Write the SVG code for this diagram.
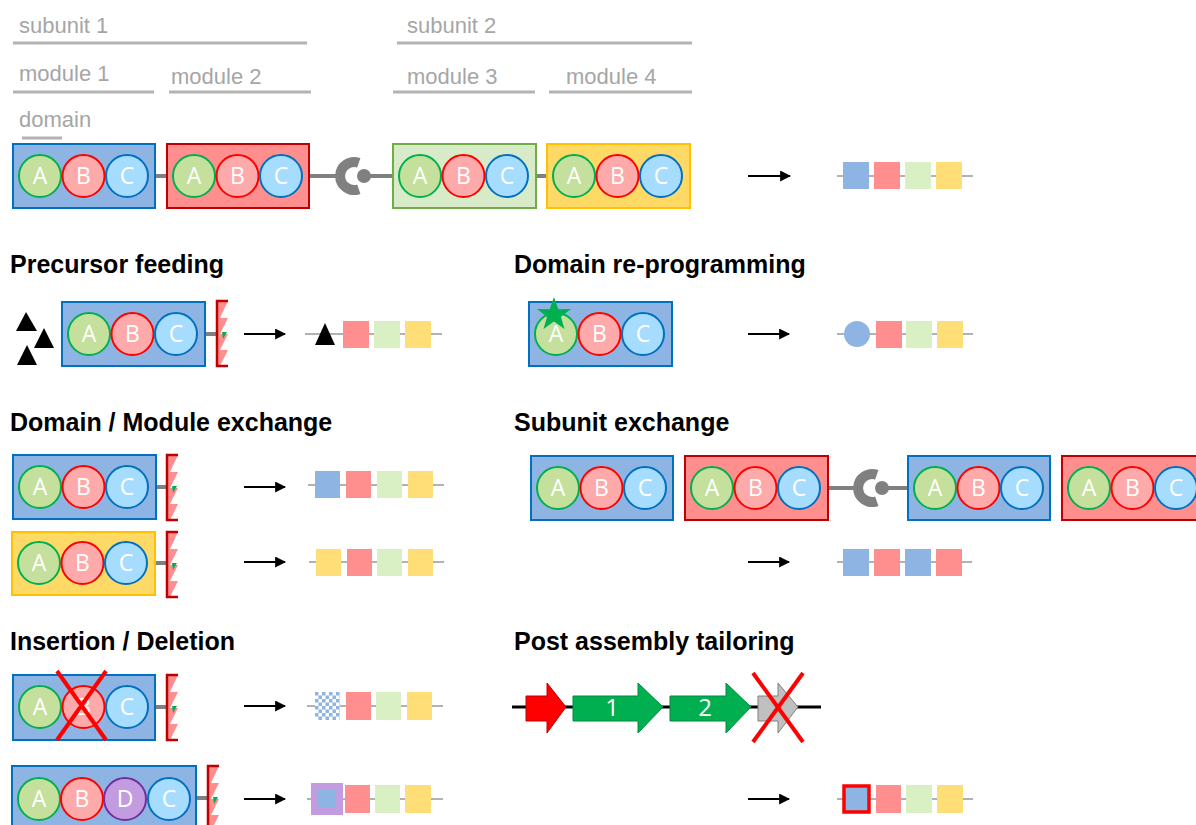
<svg xmlns="http://www.w3.org/2000/svg" xmlns:xlink="http://www.w3.org/1999/xlink" width="1196" height="825" viewBox="0 0 1196 825">
<style>
.lbl{font-family:"Liberation Sans",Arial,sans-serif;font-size:22px;fill:#a6a6a6}
.gl{stroke:#b3b3b3;stroke-width:3;fill:none}
.hdr{font-family:"Liberation Sans",Arial,sans-serif;font-size:25px;font-weight:bold;fill:#000}
.lt{font-family:"Open Sans","Liberation Sans",sans-serif;font-size:23px;fill:#fff;text-anchor:middle}
.mB{fill:#8db4e2;stroke:#0070c0;stroke-width:2}
.mR{fill:#ff8f8f;stroke:#c00000;stroke-width:2}
.mG{fill:#d8ebc8;stroke:#70ad47;stroke-width:2}
.mY{fill:#ffd966;stroke:#ffc000;stroke-width:2}
.cA{fill:#c4e09c;stroke:#00b050;stroke-width:2}
.cB{fill:#ffaaaa;stroke:#ff0000;stroke-width:2}
.cC{fill:#a6ddff;stroke:#0070c0;stroke-width:2}
.cD{fill:#c39be0;stroke:#7030a0;stroke-width:2}
.lk{stroke:#808080;stroke-width:4;fill:none}
.ar{stroke:#000;stroke-width:2;fill:none;marker-end:url(#ah)}
.pl{stroke:#999;stroke-width:1.5;fill:none}
.sB{fill:#8db4e2}.sR{fill:#ff8f8f}.sG{fill:#d9f0c5}.sY{fill:#ffdd77}
.x{stroke:#ff0000;stroke-width:4;fill:none}
.gn{font-family:"Open Sans","Liberation Sans",sans-serif;font-size:24px;fill:#fff;text-anchor:middle}
</style>
<defs>
<marker id="ah" viewBox="0 0 10 10" refX="9" refY="5" markerWidth="5.5" markerHeight="5.5" orient="auto" markerUnits="strokeWidth">
<path d="M0,0 L10,5 L0,10 z" fill="#000"/>
</marker>
<pattern id="chk" width="7" height="7" patternUnits="userSpaceOnUse" x="315" y="692">
<rect width="7" height="7" fill="#ffffff"/>
<rect width="3.5" height="3.5" fill="#8db4e2"/>
<rect x="3.5" y="3.5" width="3.5" height="3.5" fill="#8db4e2"/>
</pattern>
<g id="abc">
<circle class="cA" cx="27" cy="32" r="21"/><text class="lt" x="27" y="40">A</text>
<circle class="cB" cx="70.5" cy="32" r="21"/><text class="lt" x="70.5" y="40">B</text>
<circle class="cC" cx="114" cy="32" r="21"/><text class="lt" x="114" y="40">C</text>
</g>
<g id="te">
<polygon points="0,0 11,0 3,17 11,17 3,33 11,33 3,49 11,49 3,65 0,65" fill="#ff8f8f"/>
<polygon points="5,31 10,31 6,38" fill="#00b050"/>
<path d="M11,0 H0 V65 H11" stroke="#c00000" stroke-width="2.5" fill="none"/>
</g>
<g id="dock">
<path d="M4.8,-13.2 A14,14 0 1 0 4.8,13.2" stroke="#808080" stroke-width="10" fill="none"/>
<circle cx="10" cy="0" r="7" fill="#808080"/>
</g>
</defs>

<g id="labels">
<text class="lbl" x="19" y="33">subunit 1</text>
<line class="gl" x1="13" y1="43" x2="307" y2="43"/>
<text class="lbl" x="19" y="81">module 1</text>
<line class="gl" x1="13" y1="92" x2="154" y2="92"/>
<text class="lbl" x="171" y="84">module 2</text>
<line class="gl" x1="169" y1="92" x2="311" y2="92"/>
<text class="lbl" x="19" y="127">domain</text>
<line class="gl" x1="22" y1="138" x2="62" y2="138"/>
<text class="lbl" x="407" y="33">subunit 2</text>
<line class="gl" x1="397" y1="43" x2="692" y2="43"/>
<text class="lbl" x="407" y="84">module 3</text>
<line class="gl" x1="393" y1="92" x2="535" y2="92"/>
<text class="lbl" x="566" y="84">module 4</text>
<line class="gl" x1="549" y1="92" x2="692" y2="92"/>
</g>

<g id="headers">
<text class="hdr" x="10" y="273">Precursor feeding</text>
<text class="hdr" x="514" y="273">Domain re-programming</text>
<text class="hdr" x="10" y="431">Domain / Module exchange</text>
<text class="hdr" x="514" y="431">Subunit exchange</text>
<text class="hdr" x="10" y="650">Insertion / Deletion</text>
<text class="hdr" x="514" y="650">Post assembly tailoring</text>
</g>

<g id="connectors">
<line class="lk" x1="155" y1="176" x2="167" y2="176"/>
<line class="lk" x1="309" y1="176" x2="340" y2="176"/>
<line class="lk" x1="364" y1="176" x2="393" y2="176"/>
<line class="lk" x1="536" y1="176" x2="547" y2="176"/>
<line class="lk" x1="206" y1="334" x2="217" y2="334"/>
<line class="lk" x1="156" y1="487" x2="167" y2="487"/>
<line class="lk" x1="155" y1="563" x2="167" y2="563"/>
<line class="lk" x1="828" y1="488" x2="858" y2="488"/>
<line class="lk" x1="882" y1="488" x2="908" y2="488"/>
<line class="lk" x1="155" y1="707" x2="167" y2="707"/>
<line class="lk" x1="196" y1="798" x2="208" y2="798"/>
<line class="ar" x1="748" y1="176" x2="790" y2="176"/>
<line class="ar" x1="244" y1="334" x2="285" y2="334"/>
<line class="ar" x1="748" y1="334" x2="789" y2="334"/>
<line class="ar" x1="244" y1="487" x2="285" y2="487"/>
<line class="ar" x1="244" y1="562" x2="285" y2="562"/>
<line class="ar" x1="748" y1="562" x2="789" y2="562"/>
<line class="ar" x1="244" y1="706" x2="285" y2="706"/>
<line class="ar" x1="244" y1="799" x2="285" y2="799"/>
<line class="ar" x1="748" y1="799" x2="789" y2="799"/>
</g>

<g id="top-assembly">
<g id="module1"><rect class="mB" x="13" y="144" width="142" height="64"/><use xlink:href="#abc" x="13" y="144"/></g>
<g id="module2"><rect class="mR" x="167" y="144" width="142" height="64"/><use xlink:href="#abc" x="167" y="144"/></g>
<g id="dock1"><use xlink:href="#dock" x="354" y="176"/></g>
<g id="module3"><rect class="mG" x="393" y="144" width="143" height="64"/><use xlink:href="#abc" x="393" y="144"/></g>
<g id="module4"><rect class="mY" x="547" y="144" width="143" height="64"/><use xlink:href="#abc" x="547" y="144"/></g>
</g>
<g id="product-top">
<line class="pl" x1="837" y1="176" x2="973" y2="176"/>
<rect class="sB" x="843" y="162" width="26" height="27"/>
<rect class="sR" x="874" y="162" width="26" height="27"/>
<rect class="sG" x="905" y="162" width="26" height="27"/>
<rect class="sY" x="936" y="162" width="26" height="27"/>
</g>

<g id="precursor">
<polygon points="26,312 16,331 37,331" fill="#000"/>
<polygon points="44,328 34,348 54,348" fill="#000"/>
<polygon points="27,345 17,365 37,365" fill="#000"/>
<rect class="mB" x="62" y="302" width="143" height="64"/><use xlink:href="#abc" x="62" y="302"/>
<use xlink:href="#te" x="217" y="301"/>
</g>
<g id="product-precursor">
<line class="pl" x1="305" y1="334" x2="442" y2="334"/>
<polygon points="325,323 315,345 335,345" fill="#000"/>
<rect class="sR" x="343" y="321" width="26" height="27"/>
<rect class="sG" x="374" y="321" width="26" height="27"/>
<rect class="sY" x="405" y="321" width="26" height="27"/>
</g>

<g id="reprogram">
<rect class="mB" x="529" y="302" width="143" height="64"/><use xlink:href="#abc" x="529" y="302"/>
<polygon points="554,297 558.3,309.2 571,309 560.9,316.8 564.5,329 554,321.6 543.5,329 547.1,316.8 537,309 549.7,309.2" fill="#00b050"/>
</g>
<g id="product-reprogram">
<line class="pl" x1="837" y1="334" x2="973" y2="334"/>
<circle class="sB" cx="857" cy="334" r="13"/>
<rect class="sR" x="876" y="321" width="26" height="27"/>
<rect class="sG" x="906" y="321" width="26" height="27"/>
<rect class="sY" x="937" y="321" width="26" height="27"/>
</g>

<g id="exchange1">
<rect class="mB" x="13" y="455" width="143" height="64"/><use xlink:href="#abc" x="13" y="455"/>
<use xlink:href="#te" x="167" y="455"/>
</g>
<g id="product-exchange1">
<line class="pl" x1="308" y1="485" x2="444" y2="485"/>
<rect class="sB" x="315" y="471" width="25" height="27"/>
<rect class="sR" x="346" y="471" width="25" height="27"/>
<rect class="sG" x="377" y="471" width="25" height="27"/>
<rect class="sY" x="408" y="471" width="25" height="27"/>
</g>
<g id="exchange2">
<rect class="mY" x="12" y="532" width="143" height="63"/><use xlink:href="#abc" x="12" y="531"/>
<use xlink:href="#te" x="167" y="532"/>
</g>
<g id="product-exchange2">
<line class="pl" x1="309" y1="562" x2="444" y2="562"/>
<rect class="sY" x="316" y="549" width="25" height="27"/>
<rect class="sR" x="347" y="549" width="25" height="27"/>
<rect class="sG" x="377" y="549" width="25" height="27"/>
<rect class="sY" x="408" y="549" width="25" height="27"/>
</g>

<g id="subunit-exchange">
<g id="sub-m1"><rect class="mB" x="531" y="456" width="142" height="64"/><use xlink:href="#abc" x="531" y="456"/></g>
<g id="sub-m2"><rect class="mR" x="685" y="456" width="143" height="64"/><use xlink:href="#abc" x="685" y="456"/></g>
<g id="dock2"><use xlink:href="#dock" x="872" y="488"/></g>
<g id="sub-m3"><rect class="mB" x="908" y="456" width="142" height="64"/><use xlink:href="#abc" x="908" y="456"/></g>
<g id="sub-m4"><rect class="mR" x="1062" y="456" width="143" height="64"/><use xlink:href="#abc" x="1062" y="456"/></g>
</g>
<g id="product-subunit">
<line class="pl" x1="837" y1="562" x2="972" y2="562"/>
<rect class="sB" x="843" y="549" width="26" height="27"/>
<rect class="sR" x="874" y="549" width="26" height="27"/>
<rect class="sB" x="905" y="549" width="26" height="27"/>
<rect class="sR" x="936" y="549" width="26" height="27"/>
</g>

<g id="deletion">
<rect class="mB" x="13" y="675" width="142" height="65"/><use xlink:href="#abc" x="13" y="675"/>
<line class="x" x1="57" y1="671" x2="106" y2="740"/>
<line class="x" x1="106" y1="671" x2="57" y2="740"/>
<use xlink:href="#te" x="167" y="675"/>
</g>
<g id="product-deletion">
<line class="pl" x1="307" y1="706" x2="443" y2="706"/>
<rect x="315" y="692" width="25" height="28" fill="url(#chk)"/>
<rect class="sR" x="346" y="692" width="25" height="28"/>
<rect class="sG" x="376" y="692" width="25" height="28"/>
<rect class="sY" x="407" y="692" width="25" height="28"/>
</g>

<g id="insertion">
<rect class="mB" x="12" y="766" width="184" height="66"/>
<circle class="cA" cx="39" cy="799" r="21"/><text class="lt" x="39" y="807">A</text>
<circle class="cB" cx="82" cy="799" r="21"/><text class="lt" x="82" y="807">B</text>
<circle class="cD" cx="125" cy="799" r="21"/><text class="lt" x="125" y="807">D</text>
<circle class="cC" cx="169" cy="799" r="21"/><text class="lt" x="169" y="807">C</text>
<use xlink:href="#te" x="208" y="766"/>
</g>
<g id="product-insertion">
<line class="pl" x1="307" y1="799" x2="443" y2="799"/>
<rect x="311" y="783" width="32" height="32" fill="#c39be0"/>
<rect class="sB" x="318" y="790" width="18" height="18"/>
<rect class="sR" x="345" y="785" width="25" height="28"/>
<rect class="sG" x="375" y="785" width="25" height="28"/>
<rect class="sY" x="405" y="785" width="26" height="28"/>
</g>

<g id="gene-cluster">
<line x1="512" y1="707" x2="821" y2="707" stroke="#000" stroke-width="3"/>
<polygon points="526,696 547,696 547,683 566,707 547,733 547,721 526,721" fill="#ff0000" stroke="#c00000" stroke-width="1"/>
<polygon points="573,696 638,696 638,683 663,707 638,733 638,721 573,721" fill="#00b050" stroke="#008a3e" stroke-width="1"/>
<text class="gn" x="612" y="716">1</text>
<polygon points="670,696 726,696 726,683 751,707 726,733 726,721 670,721" fill="#00b050" stroke="#008a3e" stroke-width="1"/>
<text class="gn" x="705" y="716">2</text>
<polygon points="758,696 778,696 778,683 798,707 778,733 778,721 758,721" fill="#c0c0c0" stroke="#7f7f7f" stroke-width="1"/>
<line class="x" x1="753" y1="673" x2="803" y2="742"/>
<line class="x" x1="803" y1="673" x2="753" y2="742"/>
</g>
<g id="product-tailoring">
<line class="pl" x1="837" y1="799" x2="973" y2="799"/>
<rect x="844" y="786" width="25" height="26" fill="#8db4e2" stroke="#ff0000" stroke-width="3.5"/>
<rect class="sR" x="876" y="785" width="25" height="28"/>
<rect class="sG" x="906" y="785" width="26" height="28"/>
<rect class="sY" x="937" y="785" width="26" height="28"/>
</g>
</svg>
